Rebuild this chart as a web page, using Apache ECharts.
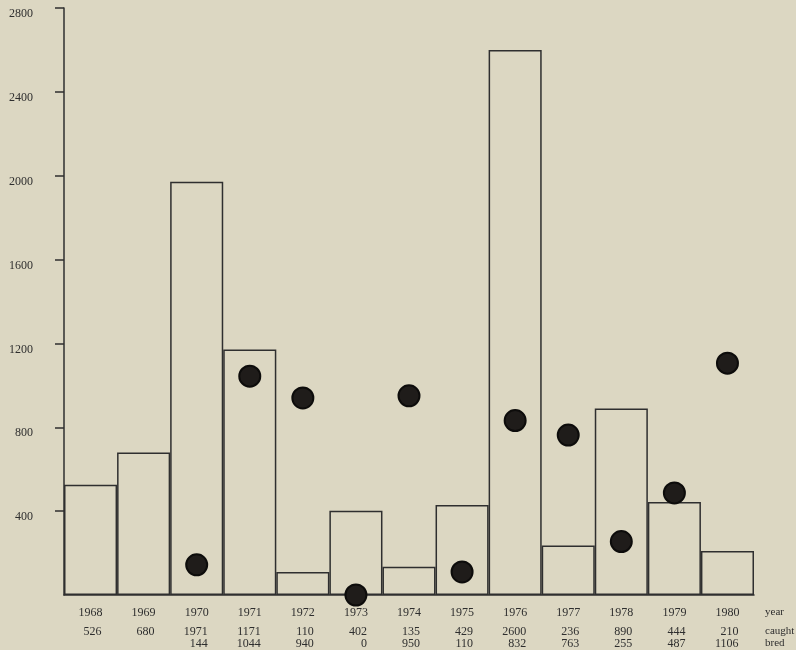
<!DOCTYPE html>
<html>
<head>
<meta charset="utf-8">
<script src="https://cdn.jsdelivr.net/npm/echarts@6/dist/echarts.min.js"></script>
<style>
html,body{margin:0;padding:0;background:#dcd7c2;}
#c{width:796px;height:650px;}
</style>
</head>
<body>
<div id="c"></div>
<script>
const years = ['1968','1969','1970','1971','1972','1973','1974','1975','1976','1977','1978','1979','1980'];
const caught = [526, 680, 1971, 1171, 110, 402, 135, 429, 2600, 236, 890, 444, 210];
const bred = [null, null, 144, 1044, 940, 0, 950, 110, 832, 763, 255, 487, 1106];
const rowNames = ['year', 'caught', 'bred'];
const yTicks = [400, 800, 1200, 1600, 2000, 2400, 2800];

const FONT = '"Liberation Serif", "DejaVu Serif", serif';
const TXT = '#2e2e2e';
const LINE = '#2f2f2f';

const chart = echarts.init(document.getElementById('c'));
chart.setOption({
  backgroundColor: '#dcd7c2',
  animation: false,
  grid: {left: 64, right: 42, top: 8, bottom: 55, containLabel: false},
  xAxis: {
    type: 'category',
    data: years,
    boundaryGap: true,
    axisTick: {show: false},
    axisLine: {show: true, lineStyle: {color: LINE, width: 1.5}},
    axisLabel: {
      margin: 6,
      interval: 0,
      fontFamily: FONT,
      color: TXT,
      formatter: function (v, i) {
        const b = bred[i] === null ? ' ' : String(bred[i]);
        return '{y|' + v + '}\n{c|' + caught[i] + '}\n{b|' + b + '}';
      },
      rich: {
        y: {width: 22, align: 'center', lineHeight: 24, fontSize: 12, fontFamily: FONT, color: TXT},
        c: {width: 22, align: 'right', lineHeight: 14, fontSize: 12, fontFamily: FONT, color: TXT},
        b: {width: 22, align: 'right', lineHeight: 10, fontSize: 12, fontFamily: FONT, color: TXT}
      }
    }
  },
  yAxis: {
    type: 'value',
    min: 0,
    max: yTicks[yTicks.length - 1],
    interval: 400,
    splitLine: {show: false},
    axisLine: {show: true, lineStyle: {color: LINE, width: 1.5}},
    axisTick: {show: true, length: 9, customValues: yTicks, lineStyle: {color: LINE, width: 1.5}},
    axisLabel: {
      margin: 31,
      fontFamily: FONT,
      fontSize: 12,
      color: TXT,
      verticalAlign: 'top',
      customValues: yTicks,
      formatter: function (v) { return String(v); }
    }
  },
  graphic: rowNames.map(function (n, k) {
    return {
      type: 'text',
      left: 765,
      top: [607, 626, 638][k],
      style: {text: n, font: '11px ' + FONT, fill: TXT}
    };
  }),
  series: [
    {
      type: 'bar',
      data: caught,
      barCategoryGap: '0%',
      itemStyle: {color: 'rgba(0,0,0,0)', borderColor: LINE, borderWidth: 1.5}
    },
    {
      type: 'scatter',
      data: bred,
      symbol: 'circle',
      symbolSize: 21,
      itemStyle: {color: '#1f1c1a', borderColor: '#0d0c0b', borderWidth: 2, opacity: 1},
      z: 5
    }
  ]
});
</script>
</body>
</html>
